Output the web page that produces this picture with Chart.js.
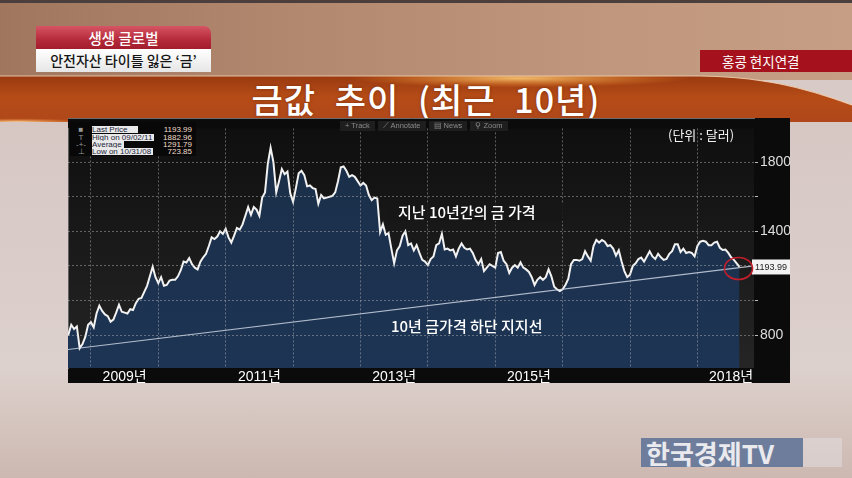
<!DOCTYPE html>
<html>
<head>
<meta charset="utf-8">
<script src="https://cdn.jsdelivr.net/npm/chart.js@4.4.0/dist/chart.umd.min.js"></script>
<style>
html, body { margin: 0; padding: 0; }
body {
    width: 852px; height: 478px; position: relative; overflow: hidden;
    font-family: "Noto Sans CJK KR", "Noto Sans", sans-serif;
    background: #d8cac6;
}
.abs { position: absolute; }
#top { left: 0; top: 0; width: 852px; height: 80px;
    background: linear-gradient(90deg, #a0765f 0%, #b2896f 35%, #c0977c 70%, #c59e85 100%); }
#topline { left: 0; top: 0; width: 852px; height: 3px; background: #4a3f3c; }
#floor { left: 0; top: 118px; width: 852px; height: 360px;
    background: linear-gradient(180deg, #d6c7c3 0px, #ddd1cd 250px, #d6c6c0 300px, #ccb8b1 360px); }
#cap1 { left: 36px; top: 26px; width: 175px; height: 23px; border-radius: 0 7px 0 0;
    background: linear-gradient(180deg, #d65564 0%, #b42a3a 60%, #a21d2d 100%);
    color: #fff; font-size: 14.5px; line-height: 23px; text-align: center; font-weight: 500; }
#cap2 { left: 36px; top: 49px; width: 175px; height: 23px;
    background: linear-gradient(180deg, #ffffff 0%, #e6e6e6 100%);
    color: #151515; font-size: 14px; line-height: 23px; text-align: center; font-weight: 500; }
#cap3 { left: 700px; top: 50px; width: 152px; height: 22px; background: #a5121d;
    color: #fff; font-size: 13.5px; line-height: 22px; padding-left: 22px; box-sizing: border-box; }
#title { left: 0; top: 78px; width: 852px; height: 42px; text-align: center;
    color: #fff; font-size: 34px; line-height: 42px; font-weight: 500;
    letter-spacing: 1px; word-spacing: 10px; text-shadow: 0 0 3px rgba(90,30,0,0.6); }
#panel { left: 68px; top: 118px; width: 722px; height: 265px; background: #0b0b0b; }
#legend { left: 70px; top: 122px; width: 126px; height: 34px; background: #080808;
    font-family: "Liberation Sans", sans-serif; font-size: 8px; }
.row { position: absolute; left: 0; width: 126px; height: 7px; line-height: 7px; }
.ico { position: absolute; left: 4px; width: 14px; color: #9a9a9a; text-align: center; }
.lab { position: absolute; left: 22px; background: #e9e9e9; color: #1c1f3a; padding-right: 2px; }
.val { position: absolute; right: 4px; color: #f1ddc8; }
#tools { left: 340px; top: 121px; height: 10px; font-family: "Liberation Sans", sans-serif;
    font-size: 7.5px; color: #8a8a8a; white-space: nowrap; }
#tools span { background: #1e1e1e; padding: 0 5px; margin-right: 3px; line-height: 10px; display: inline-block; }
#unit { left: 668px; top: 125px; color: #f2f2f2; font-size: 13px; line-height: 20px; }
#note1 { left: 390px; top: 203px; width: 175px; height: 18px; background: rgba(22,22,22,0.85);
    color: #fff; font-size: 15px; line-height: 18px; padding-left: 8px; box-sizing: border-box; font-weight: 500; }
#note2 { left: 391px; top: 316px; color: #fff; font-size: 15px; line-height: 20px; font-weight: 500; }
#logo { left: 641px; top: 438px; width: 162px; height: 29px; background: rgba(98,118,152,0.9);
    color: #e9e9ee; font-size: 26px; line-height: 29px; font-weight: 700; padding-left: 5px; box-sizing: border-box; }
#logo2 { left: 803px; top: 438px; width: 39px; height: 29px; background: rgba(226,220,222,0.55); }
</style>
</head>
<body>
<div id="floor" class="abs"></div>
<div id="top" class="abs"></div>
<div id="topline" class="abs"></div>
<svg class="abs" style="left:0;top:72px" width="852" height="50">
    <defs>
        <linearGradient id="bandG" x1="0" y1="0" x2="0" y2="1">
            <stop offset="0" stop-color="#9a3a10"/>
            <stop offset="0.45" stop-color="#b54c17"/>
            <stop offset="1" stop-color="#b0471a"/>
        </linearGradient>
        <radialGradient id="glow1" cx="0.61" cy="0.05" r="0.2">
            <stop offset="0" stop-color="#ffd27a" stop-opacity="0.85"/>
            <stop offset="1" stop-color="#ff9a30" stop-opacity="0"/>
        </radialGradient>
        <radialGradient id="glow2" cx="0.02" cy="1" r="0.08">
            <stop offset="0" stop-color="#ffe2b0" stop-opacity="0.9"/>
            <stop offset="1" stop-color="#ff9a30" stop-opacity="0"/>
        </radialGradient>
    </defs>
    <path d="M0 4 L700 4 C760 5 800 14 852 33 L852 50 L0 50 Z" fill="url(#bandG)"/>
    <path d="M0 4 L700 4 C760 5 800 14 852 33 L852 50 L0 50 Z" fill="url(#glow1)"/>
    <path d="M0 4 L700 4 C760 5 800 14 852 33 L852 50 L0 50 Z" fill="url(#glow2)"/>
    <path d="M0 4 L700 4 C760 5 800 14 852 33" fill="none" stroke="#f4d2b4" stroke-width="1.2" opacity="0.85"/>
</svg>
<div id="cap1" class="abs">생생 글로벌</div>
<div id="cap2" class="abs">안전자산 타이틀 잃은 ‘금’</div>
<div id="cap3" class="abs">홍콩 현지연결</div>
<div id="title" class="abs">금값 추이 (최근 10년)</div>

<div id="panel" class="abs"><canvas id="goldChart" width="722" height="265"></canvas></div>

<div id="legend" class="abs">
    <div class="row" style="top:4px"><span class="ico">■</span><span class="lab" style="padding-right:10px">Last Price</span><span class="val">1193.99</span></div>
    <div class="row" style="top:11.5px"><span class="ico">T</span><span class="lab">High on 09/02/11</span><span class="val">1882.96</span></div>
    <div class="row" style="top:19px"><span class="ico">-+-</span><span class="lab">Average</span><span class="val">1291.79</span></div>
    <div class="row" style="top:26px"><span class="ico">⊥</span><span class="lab">Low on 10/31/08</span><span class="val">723.85</span></div>
</div>
<div id="tools" class="abs"><span>+ Track</span><span>⟋ Annotate</span><span>▤ News</span><span>⚲ Zoom</span></div>
<div id="unit" class="abs">(단위 : 달러)</div>
<div id="note1" class="abs">지난 10년간의 금 가격</div>
<div id="note2" class="abs">10년 금가격 하단 지지선</div>

<div id="logo" class="abs">한국경제TV</div>
<div id="logo2" class="abs"></div>

<script>
// gold price (USD/oz), one value every half month, first value = mid-Aug 2008
const gold2008 = [820, 805, 860, 835, 850, 724, 748, 790, 860];
const gold2009 = [875, 845, 925, 970, 940, 920, 910, 878, 890, 930, 975, 935, 930, 925, 950, 945, 985, 1010, 1015, 1050, 1085, 1140, 1195, 1135];
const gold2010 = [1100, 1135, 1085, 1090, 1115, 1120, 1120, 1140, 1175, 1225, 1220, 1245, 1210, 1190, 1180, 1225, 1250, 1270, 1315, 1365, 1355, 1370, 1400, 1385];
const gold2011 = [1415, 1365, 1335, 1375, 1420, 1410, 1440, 1490, 1540, 1495, 1540, 1525, 1490, 1595, 1625, 1790, 1883, 1800, 1625, 1690, 1760, 1730, 1745, 1620];
const gold2012 = [1570, 1650, 1735, 1750, 1725, 1660, 1665, 1650, 1645, 1560, 1610, 1590, 1595, 1600, 1605, 1625, 1690, 1770, 1775, 1750, 1715, 1725, 1715, 1690];
const gold2013 = [1665, 1680, 1665, 1610, 1580, 1595, 1590, 1395, 1440, 1380, 1390, 1300, 1215, 1290, 1315, 1375, 1400, 1320, 1330, 1290, 1320, 1275, 1235, 1225];
const gold2014 = [1205, 1240, 1255, 1320, 1330, 1385, 1295, 1300, 1290, 1295, 1255, 1300, 1330, 1305, 1295, 1300, 1275, 1235, 1210, 1240, 1170, 1190, 1210, 1200];
const gold2015 = [1190, 1275, 1280, 1230, 1210, 1160, 1190, 1205, 1190, 1220, 1190, 1180, 1165, 1135, 1090, 1120, 1135, 1120, 1135, 1180, 1140, 1080, 1065, 1055];
const gold2016 = [1065, 1090, 1125, 1210, 1235, 1235, 1230, 1240, 1285, 1255, 1230, 1315, 1350, 1335, 1350, 1340, 1315, 1320, 1300, 1260, 1290, 1225, 1170, 1135];
const gold2017 = [1150, 1200, 1215, 1240, 1248, 1225, 1255, 1285, 1255, 1240, 1270, 1250, 1235, 1240, 1270, 1285, 1325, 1325, 1280, 1300, 1275, 1280, 1275, 1255];
const gold2018 = [1315, 1340, 1345, 1340, 1320, 1320, 1335, 1340, 1305, 1292, 1295, 1275, 1250, 1235, 1215, 1193.99];
const seriesStart = 2008 + 15 / 24;

// 10-year support line (ends)
const supportDates = [2008.66, 2018.84];
const supportValues = [717, 1200];

const priceTicks = [800, 1000, 1200, 1400, 1600, 1800];
const priceLabels = [800, 1400, 1800];
const yearLines = [2009, 2010, 2011, 2012, 2013, 2014, 2015, 2016, 2017, 2018];
const yearLabels = [2009, 2011, 2013, 2015, 2018];

const xMin = 2008.66, xMax = 2018.84;
const yMin = 610, yMax = 1995;

const goldValues = [].concat(gold2008, gold2009, gold2010, gold2011, gold2012, gold2013,
    gold2014, gold2015, gold2016, gold2017, gold2018);
const goldPoints = goldValues.map((v, i) => ({ x: seriesStart + i / 24, y: v }));
const supportPoints = supportDates.map((d, i) => ({ x: d, y: supportValues[i] }));

const panelBg = {
    id: 'panelBg',
    beforeDraw(chart) {
        const { ctx, chartArea: a } = chart;
        const g = ctx.createLinearGradient(0, a.top, 0, a.bottom);
        g.addColorStop(0, '#0f0f0f');
        g.addColorStop(1, '#252525');
        ctx.save();
        ctx.fillStyle = g;
        ctx.fillRect(a.left, a.top, a.right - a.left, a.bottom - a.top);
        ctx.restore();
    }
};

const lastMarker = {
    id: 'lastMarker',
    afterDraw(chart) {
        const meta = chart.getDatasetMeta(0);
        const pt = meta.data[meta.data.length - 1];
        const { ctx, chartArea: a } = chart;
        ctx.save();
        ctx.fillStyle = '#f3f3f3';
        ctx.fillRect(a.right - 2, pt.y - 7.5, 38, 15);
        ctx.fillStyle = '#222';
        ctx.font = '9px "Liberation Sans Narrow", "Liberation Sans", sans-serif';
        ctx.textAlign = 'center';
        ctx.textBaseline = 'middle';
        ctx.fillText(goldValues[goldValues.length - 1].toFixed(2), a.right + 17, pt.y + 0.5);
        ctx.strokeStyle = '#c21f2b';
        ctx.lineWidth = 1.6;
        ctx.beginPath();
        ctx.ellipse(pt.x - 1, pt.y + 1.5, 14, 11, 0, 0, Math.PI * 2);
        ctx.stroke();
        ctx.restore();
    }
};

const gridDash = [2, 2];
const gridColor = 'rgba(190,190,190,0.45)';
const narrowFont = '"Liberation Sans Narrow", "Liberation Sans", "Noto Sans CJK KR", sans-serif';

new Chart(document.getElementById('goldChart'), {
    type: 'line',
    data: {
        datasets: [{
            data: goldPoints,
            borderColor: '#f2f2f2',
            borderWidth: 2,
            pointRadius: 0,
            tension: 0,
            fill: 'start',
            order: 1,
            backgroundColor: (c) => {
                const a = c.chart.chartArea;
                if (!a) return '#1b3049';
                const g = c.chart.ctx.createLinearGradient(0, a.top, 0, a.bottom);
                g.addColorStop(0, '#1a2e47');
                g.addColorStop(1, '#1d3454');
                return g;
            }
        }, {
            data: supportPoints,
            borderColor: 'rgba(215,222,235,0.8)',
            borderWidth: 1.2,
            pointRadius: 0,
            fill: false,
            order: 0
        }]
    },
    options: {
        responsive: false,
        animation: false,
        devicePixelRatio: 1,
        layout: { padding: { top: 4, left: 0, right: 0, bottom: 0 } },
        plugins: { legend: { display: false }, tooltip: { enabled: false } },
        scales: {
            x: {
                type: 'linear', min: xMin, max: xMax,
                afterBuildTicks: (s) => { s.ticks = yearLines.map(v => ({ value: v })); },
                afterFit: (s) => { s.height = 0; },
                ticks: { display: false },
                grid: { color: gridColor, drawTicks: false, z: 1 },
                border: { display: true, color: '#c9c9c9', width: 1, dash: gridDash }
            },
            x2: {
                type: 'linear', position: 'bottom', min: xMin, max: xMax,
                afterBuildTicks: (s) => { s.ticks = yearLabels.map(v => ({ value: v + 0.5 })); },
                afterFit: (s) => { s.height = 15; },
                ticks: {
                    color: '#ffffff', padding: 1, maxRotation: 0, autoSkip: false,
                    font: { family: narrowFont, size: 14 },
                    callback: (v) => Math.floor(v) + '년'
                },
                grid: { display: false, drawTicks: false },
                border: { display: false }
            },
            y: {
                position: 'right', min: yMin, max: yMax,
                afterBuildTicks: (s) => { s.ticks = priceTicks.map(v => ({ value: v })); },
                afterFit: (s) => { s.width = 36; },
                ticks: {
                    color: '#dedede', padding: 2,
                    font: { family: narrowFont, size: 14 },
                    callback: (v) => priceLabels.includes(v) ? String(v) : ''
                },
                grid: { color: gridColor, tickLength: 4, tickColor: '#bdbdbd', z: 1 },
                border: { display: true, color: '#a8a8a8', width: 1, dash: gridDash }
            }
        }
    },
    plugins: [panelBg, lastMarker]
});
</script>
</body>
</html>
